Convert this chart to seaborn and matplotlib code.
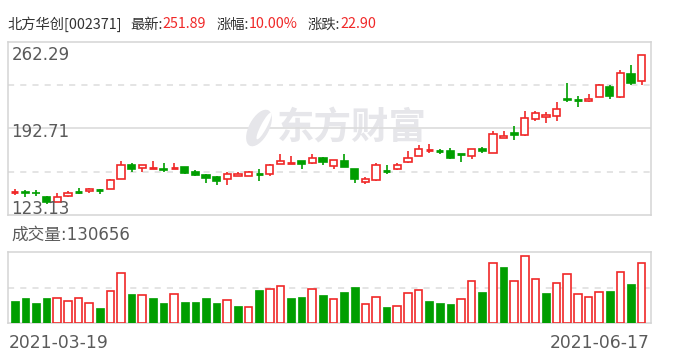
import matplotlib
matplotlib.use("Agg")
import matplotlib.pyplot as plt
import matplotlib.colors as mcolors
from matplotlib.patches import Rectangle, Ellipse
from matplotlib.transforms import IdentityTransform
import seaborn as sns
import numpy as np
import pandas as pd

# ---------------- data ----------------
holidays = ["2021-04-05", "2021-05-03", "2021-05-04", "2021-05-05", "2021-06-14"]
dates = [d for d in pd.bdate_range("2021-03-19", "2021-06-17") if d.strftime("%Y-%m-%d") not in holidays]

open_ = [141.23, 141.23, 141.07, 138.01, 133.75, 138.57, 142.19, 142.27, 143.80, 144.21,
         152.09, 163.75, 161.10, 160.86, 160.53, 160.86, 161.34, 157.32, 155.15, 153.30,
         151.93, 154.34, 154.34, 155.87, 155.95, 163.99, 165.12, 166.17, 164.80, 169.38,
         162.55, 166.17, 159.73, 149.51, 151.44, 158.52, 160.53, 165.60, 170.75, 175.58,
         174.37, 174.77, 171.96, 170.75, 176.62, 173.16, 185.23, 189.49, 187.48, 200.19,
         201.96, 202.61, 216.60, 215.96, 214.99, 218.21, 226.25, 218.05, 236.71, 231.08]
close = [141.63, 140.75, 140.59, 133.43, 137.45, 140.99, 141.87, 144.21, 143.40, 151.44,
         163.59, 159.97, 162.95, 161.26, 158.93, 161.26, 156.75, 155.15, 152.73, 150.32,
         156.51, 156.43, 157.32, 155.55, 163.75, 166.17, 165.52, 163.99, 169.38, 165.60,
         166.97, 161.58, 151.93, 152.25, 162.95, 158.20, 162.95, 169.38, 175.82, 175.74,
         174.05, 168.82, 171.64, 176.38, 174.21, 188.45, 186.84, 187.88, 201.32, 204.78,
         203.81, 208.56, 215.48, 215.64, 216.60, 227.86, 218.69, 237.52, 228.99, 251.89]
high = [144.21, 142.84, 143.64, 138.57, 140.67, 142.27, 144.69, 145.01, 143.90, 151.80,
        166.17, 164.56, 163.75, 166.17, 164.56, 164.56, 161.50, 158.93, 155.95, 154.10,
        157.32, 157.88, 158.36, 159.73, 163.90, 172.60, 170.19, 166.30, 172.60, 169.50,
        167.77, 172.60, 160.53, 153.30, 164.56, 162.95, 164.56, 174.21, 179.04, 180.64,
        175.82, 177.27, 172.00, 176.60, 178.23, 190.86, 190.86, 195.12, 206.39, 206.39,
        206.14, 213.63, 228.91, 219.01, 220.62, 228.67, 228.10, 239.93, 243.39, 251.89]
low = [139.62, 138.01, 138.25, 132.14, 133.50, 137.45, 140.42, 140.99, 140.18, 143.90,
       151.90, 158.12, 157.32, 159.97, 158.12, 159.97, 156.50, 154.34, 148.71, 146.86,
       147.66, 154.10, 154.10, 150.88, 154.90, 163.90, 165.00, 159.73, 163.99, 163.75,
       159.97, 161.50, 149.27, 147.91, 150.32, 156.51, 158.93, 164.56, 170.60, 172.84,
       172.60, 168.02, 165.60, 168.34, 173.40, 173.00, 185.00, 183.86, 186.68, 198.58,
       197.13, 198.58, 213.63, 209.84, 214.19, 218.00, 216.28, 217.08, 227.54, 227.54]
volume = [46900, 53400, 42600, 53400, 54900, 48400, 54900, 44000, 31800, 70000,
          109000, 62100, 61400, 53400, 42600, 63500, 44800, 44800, 53400, 42600,
          50500, 36100, 35400, 70700, 74400, 80900, 53400, 55600, 74400, 59900,
          52700, 66400, 77200, 41900, 57000, 33900, 37500, 65700, 72200, 46900,
          42600, 40400, 52700, 91700, 66400, 130600, 120600, 91700, 144400, 96000,
          64200, 87300, 105400, 63500, 57000, 67900, 68600, 111200, 83700, 130656]
prev_close = 142.50
price_max, price_min = 262.29, 123.13
name, code = "北方华创", "002371"
change = 22.90
pct = 10.00

# ---------------- style ----------------
RED = "#f02828"
GREEN = "#009e00"
GRID = "#dcdcdc"
FRAME = "#d4d4d4"
TXT = "#5a5a5a"
WM = "#e6e6ea"

sns.set_theme(style="white")
plt.rcParams["font.family"] = ["DejaVu Sans", "Noto Sans CJK SC"]

W, H = 688, 360
fig = plt.figure(figsize=(W / 100, H / 100), dpi=100)

def fx(px):
    return px / W

def fy(py):
    return 1 - py / H

L, R = 8, 651
ax = fig.add_axes([fx(L), fy(215), fx(R - L), (215 - 42) / H])
axv = fig.add_axes([fx(L), fy(323), fx(R - L), (323 - 252) / H])

n = len(close)
idx = np.arange(n)
xlim = (-0.64, n - 1 + 0.88)

# ---------------- candles ----------------
bw = 0.68
for i in idx:
    o, c, h, l = open_[i], close[i], high[i], low[i]
    col = RED if c >= o else GREEN
    ax.vlines(i, l, h, color=col, lw=1.2, zorder=2)
    if abs(c - o) < 0.45:
        ax.hlines((o + c) / 2, i - bw / 2, i + bw / 2, color=col, lw=2.0, zorder=3)
    else:
        lo, hi = min(o, c), max(o, c)
        face = "white" if c > o else col
        ax.add_patch(Rectangle((i - bw / 2, lo), bw, hi - lo, facecolor=face,
                               edgecolor=col, lw=1.2, zorder=3))

mid = (price_max + price_min) / 2
ax.axhline(mid, color=GRID, lw=1.2, zorder=1)
for q in (price_min + (price_max - price_min) * 0.25, price_min + (price_max - price_min) * 0.75):
    ax.axhline(q, color=GRID, lw=1.1, ls=(0, (4, 4)), zorder=1)
ax.set_xlim(*xlim)
ax.set_ylim(price_min, price_max)

# watermark (text + simple leaf-like logo)
ax.text(0.535, 0.505, "东方财富", transform=ax.transAxes, fontsize=27, fontweight="bold",
        color=WM, family=["Noto Sans CJK SC"], ha="center", va="center", zorder=0)
fig.patches.append(Ellipse((259, H - 128), 20, 40, angle=-28, facecolor=WM, edgecolor="none",
                           transform=IdentityTransform(), zorder=0))
fig.patches.append(Ellipse((264, H - 126), 6, 30, angle=-28, facecolor="white", edgecolor="none",
                           transform=IdentityTransform(), zorder=0))

# ---------------- volume (seaborn) ----------------
prevs = [prev_close] + close[:-1]
vdir = ["up" if c > p else "down" for c, p in zip(close, prevs)]
vdf = pd.DataFrame({"i": idx, "vol": volume, "dir": vdir})
sns.barplot(data=vdf, x="i", y="vol", hue="dir", palette={"up": RED, "down": GREEN},
            dodge=False, width=0.72, legend=False, ax=axv, saturation=1)
for p in axv.patches:
    fc = mcolors.to_hex(p.get_facecolor())
    if fc.lower() == mcolors.to_hex(RED).lower():
        p.set_facecolor("white")
        p.set_edgecolor(RED)
        p.set_linewidth(1.2)
    else:
        p.set_edgecolor(GREEN)
        p.set_linewidth(0.5)
    p.set_zorder(3)
vmax = 153800
axv.axhline(vmax / 2, color=GRID, lw=1.1, ls=(0, (4, 4)), zorder=1)
axv.set_xlim(*xlim)
axv.set_ylim(0, vmax)
axv.set_xlabel("")
axv.set_ylabel("")

for a in (ax, axv):
    a.set_xticks([])
    a.set_yticks([])
    a.patch.set_alpha(0)
    for s in a.spines.values():
        s.set_color(FRAME)
        s.set_linewidth(1.1)
        s.set_visible(True)

# ---------------- texts ----------------
fig.text(fx(11.5), fy(60), f"{price_max:.2f}", fontsize=12, color=TXT, va="baseline", ha="left")
fig.text(fx(11.5), fy(137), f"{mid:.2f}", fontsize=12, color=TXT, va="baseline", ha="left")
fig.text(fx(11.5), fy(214), f"{price_min:.2f}", fontsize=12, color=TXT, va="baseline", ha="left")
fig.text(fx(11.5), fy(240), f"成交量:{volume[-1]}", fontsize=12, color=TXT, va="baseline", ha="left")
fig.text(fx(8.5), fy(348), dates[0].strftime("%Y-%m-%d"), fontsize=12.3, color=TXT, va="baseline", ha="left")
fig.text(fx(650), fy(348), dates[-1].strftime("%Y-%m-%d"), fontsize=12.3, color=TXT, va="baseline", ha="right")

renderer = fig.canvas.get_renderer()
title_parts = [(f"{name}[{code}]", "#333333", 0), ("最新:", "#333333", 9), (f"{close[-1]:.2f}", RED, 0),
               ("涨幅:", "#333333", 10), (f"{pct:.2f}%", RED, 0), ("涨跌:", "#333333", 10),
               (f"{change:.2f}", RED, 0)]
xpos = 7.0
for s, colr, gap in title_parts:
    xpos += gap
    t = fig.text(fx(xpos), fy(28.5), s, fontsize=10.3, color=colr, va="baseline", ha="left",
                 family=["Noto Sans CJK SC", "DejaVu Sans"])
    bb = t.get_window_extent(renderer)
    xpos = bb.x1

fig.savefig("out.png", dpi=100)
